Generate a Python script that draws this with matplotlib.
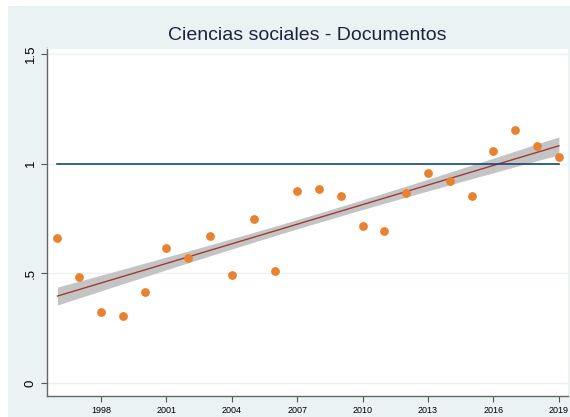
import numpy as np
import matplotlib.pyplot as plt
from matplotlib.patches import Rectangle

plt.rcParams['font.family'] = ['Liberation Sans', 'DejaVu Sans']

years = np.arange(1996, 2020)
values = [0.662, 0.483, 0.321, 0.303, 0.414, 0.617, 0.568, 0.671, 0.492, 0.747,
          0.510, 0.873, 0.882, 0.853, 0.714, 0.692, 0.867, 0.955, 0.921, 0.850,
          1.058, 1.155, 1.082, 1.030]
ref_value = 1.0
x_ticks = [1998, 2001, 2004, 2007, 2010, 2013, 2016, 2019]
y_ticks = [0, 0.5, 1, 1.5]
y_labels = ["0", ".5", "1", "1.5"]

bg = "#eaf2f3"

# linear fit and its band (band scaled to match the original's width)
x = years.astype(float)
y = np.array(values)
b, a = np.polyfit(x, y, 1)
n = len(x)
resid = y - (a + b * x)
s = np.sqrt(np.sum(resid ** 2) / (n - 2))
xx = np.linspace(x.min(), x.max(), 100)
yy = a + b * xx
se = s * np.sqrt(1 / n + (xx - x.mean()) ** 2 / np.sum((x - x.mean()) ** 2))
band_k = 0.85

fig = plt.figure(figsize=(5.7, 4.17), dpi=100)
fig.patches.append(Rectangle((8 / 570, 0), 1, 1 - 6 / 417, transform=fig.transFigure,
                             facecolor=bg, edgecolor="none", zorder=-1))

ax = fig.add_axes([47 / 570, 1 - 396 / 417, 521 / 570, 348 / 417])
ax.set_facecolor("white")

for v in y_ticks:
    ax.axhline(v, color=bg, lw=1, zorder=0)

ax.fill_between(xx, yy - band_k * se, yy + band_k * se, color="#c4c4c4", lw=0, zorder=1)
ax.plot(xx, yy, color="#a03a3a", lw=1, zorder=2)
ax.plot(years, [ref_value] * n, color="#1a476f", lw=1.2, zorder=2)
ax.scatter(years, values, s=40, color="#e8822e", lw=0, zorder=3)

ax.set_xlim(1995.52, 2019.42)
ax.set_ylim(-0.06, 1.527)
ax.set_xticks(x_ticks)
ax.set_xticklabels([str(v) for v in x_ticks], fontsize=6.5)
ax.set_yticks(y_ticks)
ax.set_yticklabels(y_labels, fontsize=9.5, rotation=90, va="center")
ax.tick_params(axis="both", color="#555555", length=4, width=0.8)

for side in ["left", "bottom"]:
    ax.spines[side].set_color("#666666")
    ax.spines[side].set_linewidth(1)
for side in ["top", "right"]:
    ax.spines[side].set_color(bg)

ax.set_title("Ciencias sociales - Documentos", fontsize=14, color="#1a2440", pad=6)

fig.savefig("out.png", dpi=100)
